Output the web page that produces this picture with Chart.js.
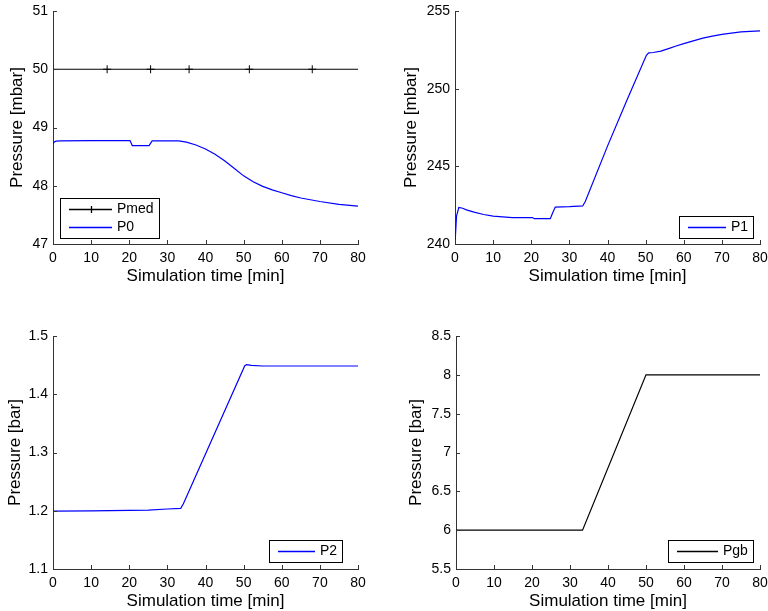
<!DOCTYPE html>
<html>
<head>
<meta charset="utf-8">
<script src="https://cdn.jsdelivr.net/npm/chart.js@4.4.0/dist/chart.umd.min.js"></script>
<style>
  body { margin: 0; background: #fff; }
  #wrap { position: relative; width: 768px; height: 611px; }
  #wrap canvas { position: absolute; }
</style>
</head>
<body>
<div id="wrap">
  <canvas id="c0" width="384" height="300" style="left:0;top:0"></canvas>
  <canvas id="c1" width="384" height="300" style="left:384px;top:0"></canvas>
  <canvas id="c2" width="384" height="311" style="left:0;top:300px"></canvas>
  <canvas id="c3" width="384" height="311" style="left:384px;top:300px"></canvas>
</div>
<script>
// --- data (time in minutes) ---
const xTicks = [0, 10, 20, 30, 40, 50, 60, 70, 80];

const tMed = [0, 14.2, 25.6, 35.7, 51.5, 68, 80];
const pMed = [50, 50, 50, 50, 50, 50, 50];

const tP0 = [0, 0.3, 0.8, 2, 10, 20.2, 20.8, 25.2, 26, 30, 33, 35, 37.5, 40, 42.5, 45, 47.5, 50, 52.5, 55, 57.5, 60, 62.5, 65, 70, 75, 80];
const p0 = [48.72, 48.75, 48.765, 48.77, 48.775, 48.775, 48.69, 48.69, 48.77, 48.77, 48.77, 48.75, 48.70, 48.63, 48.54, 48.43, 48.30, 48.17, 48.07, 47.99, 47.93, 47.88, 47.83, 47.79, 47.73, 47.68, 47.65];

const tP1 = [0, 0.4, 1, 2, 3, 5, 7.5, 10, 15, 20.3, 20.8, 25, 25.6, 26.3, 30, 33.5, 34.2, 40, 45, 50.2, 50.8, 52, 54, 56, 58, 60, 62.5, 65, 67.5, 70, 75, 80];
const p1 = [240, 241.8, 242.35, 242.3, 242.2, 242.05, 241.9, 241.8, 241.7, 241.7, 241.63, 241.63, 242.0, 242.38, 242.4, 242.45, 242.75, 246.3, 249.2, 252.15, 252.3, 252.33, 252.42, 252.58, 252.75, 252.9, 253.08, 253.25, 253.38, 253.5, 253.65, 253.72];

const tP2 = [0, 10, 20, 25, 30, 33.5, 34.2, 50.3, 50.8, 52, 55, 60, 70, 80];
const p2 = [1.1995, 1.1998, 1.2005, 1.201, 1.203, 1.204, 1.212, 1.449, 1.451, 1.4495, 1.4485, 1.4485, 1.4485, 1.4485];

const tGb = [0, 33.3, 50, 80];
const pGb = [6, 6, 8, 8];

const FONT = '"Liberation Sans", Arial, Helvetica, sans-serif';
const AXIS = '#333';

function pts(xs, ys) {
  return xs.map((x, i) => ({ x: x, y: ys[i] }));
}

// MATLAB style inward tick marks
const inTicks = {
  id: 'inTicks',
  afterDatasetsDraw(chart) {
    const { ctx, chartArea, scales } = chart;
    ctx.save();
    ctx.strokeStyle = AXIS;
    ctx.lineWidth = 1;
    ctx.beginPath();
    scales.x.ticks.forEach((t, i) => {
      const px = Math.round(scales.x.getPixelForTick(i)) + 0.5;
      ctx.moveTo(px, chartArea.bottom);
      ctx.lineTo(px, chartArea.bottom - 4);
    });
    scales.y.ticks.forEach((t, i) => {
      const py = Math.round(scales.y.getPixelForTick(i)) + 0.5;
      ctx.moveTo(chartArea.left, py);
      ctx.lineTo(chartArea.left + 4, py);
    });
    ctx.stroke();
    ctx.restore();
  }
};

// boxed legend drawn inside the axes
const boxLegend = {
  id: 'boxLegend',
  afterDraw(chart, args, opts) {
    const { ctx, chartArea } = chart;
    const sets = chart.data.datasets;
    ctx.save();
    ctx.font = '14px ' + FONT;
    const textW = Math.max(...sets.map(d => ctx.measureText(d.label).width));
    const rowH = 18;
    const w = 9 + opts.lineLen + 5 + textW + 5;
    const h = sets.length * rowH + 4;
    const x = opts.corner === 'sw' ? chartArea.left + opts.dx : chartArea.right - opts.dx - w;
    const y = chartArea.bottom - opts.dy - h;
    ctx.fillStyle = '#fff';
    ctx.fillRect(x, y, w, h);
    ctx.strokeStyle = '#000';
    ctx.lineWidth = 1;
    ctx.strokeRect(Math.round(x) + 0.5, Math.round(y) + 0.5, Math.round(w), Math.round(h));
    sets.forEach((d, i) => {
      const cy = Math.round(y + 2 + rowH / 2 + i * rowH) + 0.5;
      const x0 = Math.round(x + 9), x1 = x0 + opts.lineLen;
      ctx.strokeStyle = opts.colors[i];
      ctx.lineWidth = 1.3;
      ctx.beginPath();
      ctx.moveTo(x0, cy);
      ctx.lineTo(x1, cy);
      if (d.pointStyle === 'cross') {
        const mx = Math.round((x0 + x1) / 2) + 0.5;
        ctx.moveTo(mx - 3.5, cy);
        ctx.lineTo(mx + 3.5, cy);
        ctx.moveTo(mx, cy - 3.5);
        ctx.lineTo(mx, cy + 3.5);
      }
      ctx.stroke();
      ctx.fillStyle = '#000';
      ctx.textBaseline = 'middle';
      ctx.textAlign = 'left';
      ctx.fillText(d.label, x1 + 5, cy);
    });
    ctx.restore();
  }
};

function fmt(v) {
  return String(Math.round(v * 100) / 100);
}

function makeChart(id, datasets, y, box, legend) {
  return new Chart(document.getElementById(id), {
    type: 'line',
    data: { datasets: datasets },
    plugins: [inTicks, boxLegend],
    options: {
      responsive: false,
      animation: false,
      parsing: false,
      layout: { padding: { top: box.padTop, right: box.padRight, left: 0, bottom: 0 } },
      plugins: {
        legend: { display: false },
        tooltip: { enabled: false },
        boxLegend: legend
      },
      scales: {
        x: {
          type: 'linear',
          min: 0,
          max: 80,
          afterBuildTicks: s => { s.ticks = xTicks.map(v => ({ value: v })); },
          afterFit: s => { s.height = box.xHeight; s.paddingLeft = 0; s.paddingRight = 0; },
          grid: { display: false, drawTicks: false },
          border: { display: true, color: AXIS, width: 1 },
          ticks: { color: '#000', font: { family: FONT, size: 14 }, padding: 6, maxRotation: 0, callback: fmt },
          title: {
            display: true,
            text: 'Simulation time [min]',
            color: '#000',
            font: { family: FONT, size: 17 },
            padding: { top: 0, bottom: box.xHeight - 32 - 10.2 }
          }
        },
        y: {
          type: 'linear',
          min: y.min,
          max: y.max,
          ticks: { stepSize: y.step, color: '#000', font: { family: FONT, size: 14 }, padding: 5, callback: fmt },
          afterFit: s => { s.width = box.yWidth; s.paddingTop = 0; s.paddingBottom = 0; },
          grid: { display: false, drawTicks: false },
          border: { display: true, color: AXIS, width: 1 },
          title: {
            display: true,
            text: y.title,
            color: '#000',
            font: { family: FONT, size: 17 },
            padding: { top: box.yTitleX - 10.2, bottom: 0 }
          }
        }
      }
    }
  });
}

const lineBase = { borderWidth: 1.2, pointRadius: 0, fill: false, tension: 0 };

makeChart('c0', [
  Object.assign({}, lineBase, {
    label: 'Pmed', data: pts(tMed, pMed), borderColor: '#000',
    pointStyle: 'cross', pointRadius: [0, 4, 4, 4, 4, 4, 0], pointBorderWidth: 1, pointBorderColor: '#000'
  }),
  Object.assign({}, lineBase, { label: 'P0', data: pts(tP0, p0), borderColor: '#0000ff' })
], { min: 47, max: 51, step: 1, title: 'Pressure [mbar]' },
   { yWidth: 53, xHeight: 56, padTop: 11, padRight: 26, yTitleX: 17 },
   { corner: 'sw', dx: 7, dy: 6, lineLen: 43, colors: ['#000', '#0000ff'] });

makeChart('c1', [
  Object.assign({}, lineBase, { label: 'P1', data: pts(tP1, p1), borderColor: '#0000ff' })
], { min: 240, max: 255, step: 5, title: 'Pressure [mbar]' },
   { yWidth: 71, xHeight: 56, padTop: 11, padRight: 8, yTitleX: 27 },
   { corner: 'se', dx: 7, dy: 6, lineLen: 38, colors: ['#0000ff'] });

makeChart('c2', [
  Object.assign({}, lineBase, { label: 'P2', data: pts(tP2, p2), borderColor: '#0000ff' })
], { min: 1.1, max: 1.5, step: 0.1, title: 'Pressure [bar]' },
   { yWidth: 53, xHeight: 42, padTop: 36, padRight: 26, yTitleX: 15 },
   { corner: 'se', dx: 16, dy: 7, lineLen: 37, colors: ['#0000ff'] });

makeChart('c3', [
  Object.assign({}, lineBase, { label: 'Pgb', data: pts(tGb, pGb), borderColor: '#000' })
], { min: 5.5, max: 8.5, step: 0.5, title: 'Pressure [bar]' },
   { yWidth: 72, xHeight: 42, padTop: 36, padRight: 8, yTitleX: 32 },
   { corner: 'se', dx: 7, dy: 7, lineLen: 41, colors: ['#000'] });
</script>
</body>
</html>
